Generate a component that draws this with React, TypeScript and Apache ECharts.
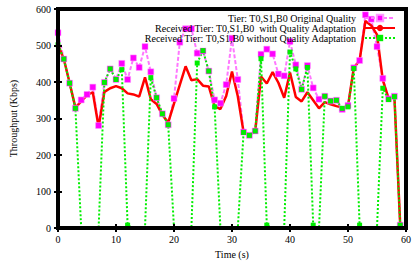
import React, { useEffect, useRef } from 'react';
import * as echarts from 'echarts';

const times = [
  0, 1, 2, 3, 4, 5, 6, 7, 8, 9, 10, 11, 12, 13, 14, 15, 16, 17, 18, 19,
  20, 21, 22, 23, 24, 25, 26, 27, 28, 29, 30, 31, 32, 33, 34, 35, 36, 37, 38, 39,
  40, 41, 42, 43, 44, 45, 46, 47, 48, 49, 50, 51, 52, 53, 54, 55, 56, 57, 58, 59,
];

const originalQuality = [
  535, 463, 397, 328, 351, 366, 386, 281, 399, 436, 407, 451, 407, 466, 440, 497, 428, 357, 313, 283,
  355, 509, 546, 546, 479, 485, 430, 351, 342, 393, 520, 407, 263, 254, 266, 476, 490, 477, 422, 417,
  511, 447, 380, 445, 384, 353, 361, 348, 350, 325, 336, 439, 459, 584, 572, 497, 410, 354, 361, 8,
];

const withAdaptation = [
  502, 463, 398, 330, 347, 364, 372, 277, 373, 383, 389, 383, 369, 366, 360, 413, 353, 340, 310, 289,
  341, 392, 443, 405, 408, 390, 388, 334, 326, 362, 429, 361, 262, 256, 264, 415, 396, 427, 398, 357,
  426, 359, 347, 372, 350, 328, 345, 339, 334, 330, 334, 439, 459, 567, 555, 530, 405, 355, 360, 8,
];

const withoutAdaptation = [
  502, 463, 397, 328, 0, 0, 0, 0, 399, 436, 407, 434, 8, 0, 0, 0, 412, 357, 313, 283,
  0, 0, 0, 0, 452, 486, 430, 332, 0, 0, 0, 0, 262, 254, 266, 464, 8, 0, 0, 0,
  482, 436, 380, 440, 8, 0, 361, 348, 350, 328, 332, 437, 8, 0, 0, 0, 383, 352, 360, 8,
];

const seriesNames = [
  'Tier: T0,S1,B0 Original Quality',
  'Received Tier: T0,S1,B0  with Quality Adaptation',
  'Received Tier: T0,S1,B0 without Quality Adaptation',
];

const FONT = 'Liberation Serif';

export default function App() {
  const ref = useRef<HTMLDivElement>(null);

  useEffect(() => {
    if (!ref.current) return;
    const chart = echarts.init(ref.current, undefined, { renderer: 'svg' });

    const pairs = (vals: number[]) => times.map((t, i) => [t, vals[i]]);
    const greenData = times.map((t, i) =>
      withoutAdaptation[i] === 0 ? { value: [t, 0], symbol: 'none' } : [t, withoutAdaptation[i]]
    );

    const axisCommon = {
      z: 5,
      axisLine: { show: true, lineStyle: { color: '#000', width: 4 } },
      axisTick: { show: true, inside: true, length: 4, lineStyle: { color: '#000', width: 2 } },
      splitLine: { show: false },
    };

    chart.setOption({
      animation: false,
      backgroundColor: '#fff',
      grid: {
        left: 58,
        right: 5.3,
        top: 9,
        bottom: 34.3,
        show: true,
        borderColor: '#000',
        borderWidth: 4,
      },
      legend: {
        data: seriesNames,
        orient: 'vertical',
        align: 'right',
        right: 18,
        top: 13,
        padding: 0,
        itemGap: 0,
        itemWidth: 30,
        itemHeight: 8,
        textStyle: { fontFamily: FONT, fontSize: 10, lineHeight: 8, color: '#000', padding: [0, 4, 0, 0] },
      },
      xAxis: [
        {
          ...axisCommon,
          type: 'value',
          min: 0,
          max: 60,
          interval: 10,
          position: 'bottom',
          name: 'Time (s)',
          nameLocation: 'middle',
          nameGap: 19,
          nameTextStyle: { fontFamily: FONT, fontSize: 10, color: '#000' },
          axisLabel: { fontFamily: FONT, fontSize: 10, color: '#000', margin: 6 },
        },
        {
          ...axisCommon,
          type: 'value',
          min: 0,
          max: 60,
          interval: 10,
          position: 'top',
          axisLabel: { show: false },
        },
      ],
      yAxis: [
        {
          ...axisCommon,
          type: 'value',
          min: 0,
          max: 600,
          interval: 100,
          position: 'left',
          name: 'Throughput (Kbps)',
          nameLocation: 'middle',
          nameGap: 40,
          nameTextStyle: { fontFamily: FONT, fontSize: 10, color: '#000' },
          axisLabel: { fontFamily: FONT, fontSize: 10, color: '#000', margin: 7 },
        },
        {
          ...axisCommon,
          type: 'value',
          min: 0,
          max: 600,
          interval: 100,
          position: 'right',
          axisLabel: { show: false },
        },
      ],
      series: [
        {
          name: seriesNames[0],
          type: 'line',
          data: pairs(originalQuality),
          symbol: 'rect',
          symbolSize: 6,
          itemStyle: { color: '#ff00ff', borderColor: '#ff99ff', borderWidth: 0.5 },
          lineStyle: { color: '#ff77ff', width: 2, type: [4, 2] },
        },
        {
          name: seriesNames[1],
          type: 'line',
          data: pairs(withAdaptation),
          symbol: 'none',
          itemStyle: { color: '#ff0000' },
          lineStyle: { color: '#ff0000', width: 2.5 },
        },
        {
          name: seriesNames[2],
          type: 'line',
          data: greenData,
          symbol: 'rect',
          symbolSize: 5,
          itemStyle: { color: '#00ee00' },
          lineStyle: { color: '#00ee00', width: 2, type: [2, 2] },
        },
      ],
    });

    return () => chart.dispose();
  }, []);

  return (
    <div
      ref={ref}
      style={{ position: 'fixed', left: 0, top: 0, width: 414, height: 264 }}
    />
  );
}
